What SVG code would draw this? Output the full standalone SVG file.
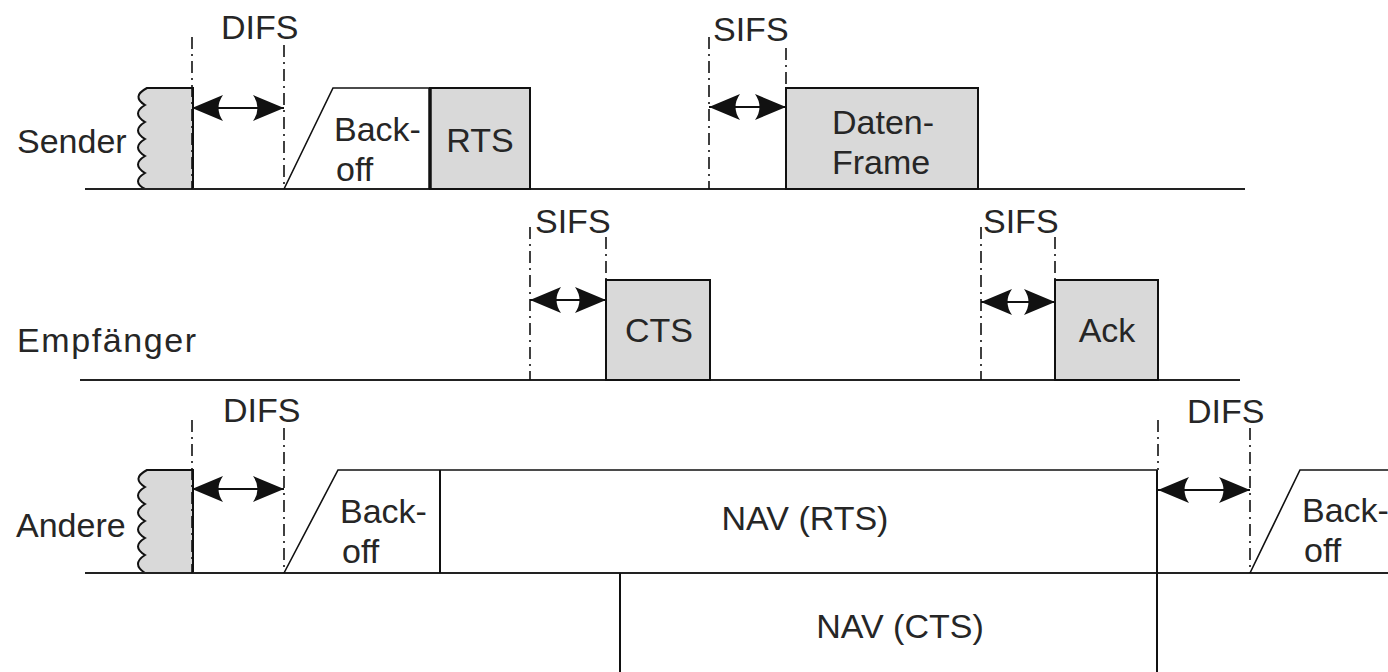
<svg xmlns="http://www.w3.org/2000/svg" width="1388" height="672" viewBox="0 0 1388 672">
<defs>
<style>
text{font-family:"Liberation Sans",Arial,sans-serif;font-size:34px;fill:#262626}
.mid{text-anchor:middle}
.base{stroke:#222;stroke-width:2;fill:none}
.edge{stroke:#111;stroke-width:2;fill:none}
.box{fill:#d9d9d9;stroke:#111;stroke-width:2}
.dd{stroke:#111;stroke-width:1.6;fill:none;stroke-dasharray:12 5 2 5}
.slope{stroke:#111;stroke-width:1.6;fill:none}
.arr{stroke:#111;stroke-width:2;fill:none;marker-start:url(#ah);marker-end:url(#ah)}
</style>
<marker id="ah" viewBox="0 0 32 28" refX="31" refY="14" markerWidth="32" markerHeight="28" markerUnits="userSpaceOnUse" orient="auto-start-reverse">
<path d="M31,14 L0,1 Q9,14 0,27 Z" fill="#111"/>
</marker>
</defs>
<rect width="1388" height="672" fill="#fff"/>

<g id="sender">
<text x="17" y="153">Sender</text>
<path class="box" d="M193,88 L147,88 Q131,96.5 145,105 Q131,113.5 145,122 Q131,130.5 145,139 Q131,147.5 145,156 Q131,164.5 145,173 Q131,181.5 145,189 L193,189 Z"/>
<line class="base" x1="85" y1="189" x2="1245" y2="189"/>
<text x="221" y="39">DIFS</text>
<polyline class="slope" points="284,189 333,88 430,88"/>
<text x="334" y="141">Back-</text>
<text x="336" y="181">off</text>
<rect class="box" x="430" y="88" width="100" height="101"/>
<line stroke="#111" stroke-width="3.5" x1="430" y1="88" x2="430" y2="189"/>
<text class="mid" x="480" y="152">RTS</text>
<text x="713" y="41">SIFS</text>
<rect class="box" x="786" y="88" width="192" height="101"/>
<text x="832" y="134">Daten-</text>
<text x="832" y="174">Frame</text>
</g>

<g id="empfaenger">
<text x="17" y="352" letter-spacing="1.6">Empfänger</text>
<line class="base" x1="80" y1="380" x2="1240" y2="380"/>
<text x="535" y="233">SIFS</text>
<rect class="box" x="606" y="280" width="104" height="100"/>
<text class="mid" x="659" y="342">CTS</text>
<text x="983" y="233">SIFS</text>
<rect class="box" x="1055" y="280" width="103" height="100"/>
<text class="mid" x="1107" y="342">Ack</text>
</g>

<g id="andere">
<text x="16" y="537">Andere</text>
<path class="box" d="M193,470 L147,470 Q131,478.5 145,487 Q131,495.5 145,504 Q131,512.5 145,521 Q131,529.5 145,538 Q131,546.5 145,555 Q131,564 145,573 L193,573 Z"/>
<line class="base" x1="85" y1="573" x2="1388" y2="573"/>
<text x="223" y="422">DIFS</text>
<polyline class="slope" points="284,573 338,470 1157,470"/>
<line class="edge" x1="440" y1="470" x2="440" y2="573"/>
<text x="340" y="523">Back-</text>
<text x="342" y="563">off</text>
<text class="mid" x="805" y="530">NAV (RTS)</text>
<line class="edge" x1="1157" y1="470" x2="1157" y2="672"/>
<text x="1187" y="423">DIFS</text>
<polyline class="slope" points="1250,573 1300,470 1388,470"/>
<text x="1302" y="522">Back-</text>
<text x="1304" y="562">off</text>
</g>

<g id="nav-cts">
<line class="edge" x1="620" y1="573" x2="620" y2="672"/>
<text class="mid" x="900" y="638">NAV (CTS)</text>
</g>

<g id="connectors">
<line class="dd" x1="192" y1="37" x2="192" y2="189"/>
<line class="dd" x1="284" y1="45" x2="284" y2="189"/>
<line class="dd" x1="709" y1="37" x2="709" y2="189"/>
<line class="dd" x1="786" y1="48" x2="786" y2="189"/>
<line class="dd" x1="530" y1="227" x2="530" y2="380"/>
<line class="dd" x1="606" y1="237" x2="606" y2="380"/>
<line class="dd" x1="981" y1="227" x2="981" y2="380"/>
<line class="dd" x1="1055" y1="237" x2="1055" y2="380"/>
<line class="dd" x1="192" y1="420" x2="192" y2="573"/>
<line class="dd" x1="284" y1="428" x2="284" y2="573"/>
<line class="dd" x1="1158" y1="420" x2="1158" y2="470"/>
<line class="dd" x1="1250" y1="428" x2="1250" y2="573"/>
<line class="arr" x1="192" y1="108" x2="284" y2="108"/>
<line class="arr" x1="709" y1="107" x2="786" y2="107"/>
<line class="arr" x1="530" y1="300" x2="606" y2="300"/>
<line class="arr" x1="981" y1="302" x2="1055" y2="302"/>
<line class="arr" x1="192" y1="489" x2="284" y2="489"/>
<line class="arr" x1="1158" y1="490" x2="1250" y2="490"/>
</g>
</svg>
